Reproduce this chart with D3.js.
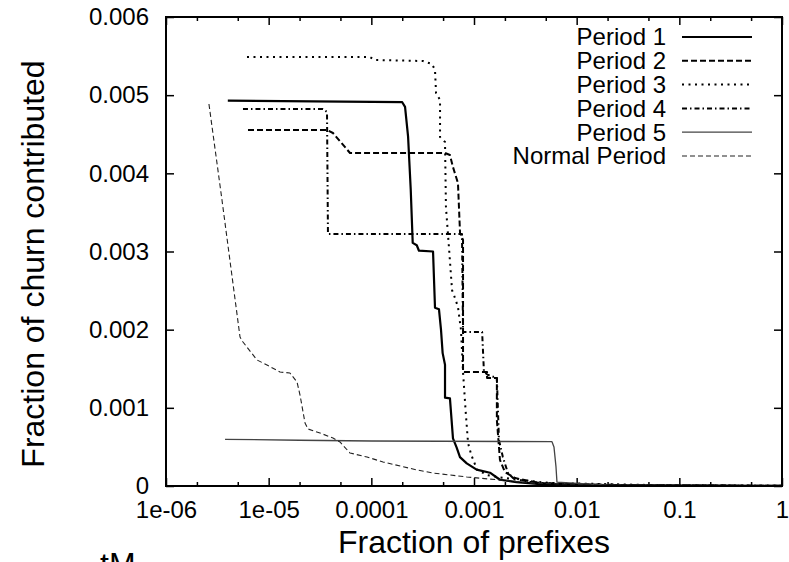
<!DOCTYPE html>
<html>
<head>
<meta charset="utf-8">
<script src="https://cdn.jsdelivr.net/npm/d3@7"></script>
<style>
  body { margin: 0; background: #fff; }
  svg { display: block; font-family: "Liberation Sans", Arial, Helvetica, sans-serif; }
  .axis text { font-size: 24px; fill: #000; }
  .axis line { stroke: #000; stroke-width: 1.5; }
</style>
</head>
<body>
<svg id="chart" width="789" height="562"></svg>
<script>
// values (x = fraction of prefixes, y = fraction of churn)
var seriesNames = ["Period 1", "Period 2", "Period 3", "Period 4", "Period 5", "Normal Period"];

var period1 = [[4.0e-6,0.00493],[2.0e-4,0.00491],[2.13e-4,0.00485],[2.28e-4,0.00447],[2.42e-4,0.00379],
  [2.53e-4,0.00311],[2.77e-4,0.00308],[2.91e-4,0.00301],[3.99e-4,0.00300],[4.17e-4,0.00228],
  [4.56e-4,0.00226],[4.77e-4,0.00200],[4.95e-4,0.00170],[5.22e-4,0.00155],[5.22e-4,0.00113],
  [5.83e-4,0.00112],[6.24e-4,0.00061],[6.78e-4,0.00049],[7.3e-4,0.00037],[8.5e-4,0.00029],
  [1.06e-3,0.00021],[1.43e-3,0.00017],[1.79e-3,0.00008],[2.6e-3,0.00005],[4.4e-3,0.000025],
  [0.03,0.000008],[1,0.000002]];

var period2 = [[6.29e-6,0.004554],[3.70e-5,0.004554],[4.23e-5,0.004516],[6.2e-5,0.00426],[5.22e-4,0.00426],
  [5.83e-4,0.004234],[6.24e-4,0.004081],[6.98e-4,0.003876],[7.31e-4,0.003237],[7.82e-4,0.003147],
  [7.82e-4,0.001458],[1.34e-3,0.001458],[1.34e-3,0.001382],[1.67e-3,0.001382],[1.67e-3,0.000844],
  [1.79e-3,0.000333],[2.0e-3,0.000179],[2.51e-3,0.000102],[4.39e-3,0.000038],[0.0169,0.000013],[1,0.000002]];

var period3 = [[6.15e-6,0.005488],[9.7e-5,0.005488],[1.09e-4,0.00545],[3.18e-4,0.005437],[3.9e-4,0.005398],
  [4.17e-4,0.005322],[4.27e-4,0.005027],[4.67e-4,0.004937],[4.67e-4,0.004465],[5.22e-4,0.004401],
  [5.33e-4,0.003569],[5.7e-4,0.003057],[6.11e-4,0.002507],[6.53e-4,0.002405],[6.98e-4,0.00229],
  [7.47e-4,0.001996],[7.82e-4,0.001458],[8.3e-4,0.00095],[8.75e-4,0.00055],[9.4e-4,0.0004],
  [1.07e-3,0.00021],[1.34e-3,0.00014],[1.79e-3,0.00011],[2.81e-3,0.000077],[5.5e-3,0.000038],
  [0.0518,0.000013],[1,0.000002]];

var period4 = [[5.62e-6,0.004823],[3.38e-5,0.004823],[3.7e-5,0.004785],[3.78e-5,0.003224],[7.64e-4,0.003224],
  [7.82e-4,0.00197],[1.2e-3,0.00197],[1.25e-3,0.001458],[1.37e-3,0.00142],[1.67e-3,0.001382],
  [1.75e-3,0.000588],[1.91e-3,0.000371],[2.14e-3,0.000166],[2.4e-3,0.000102],[3.51e-3,0.000051],
  [6.43e-3,0.000026],[0.0518,0.000009],[1,0.000002]];

var period5 = [[3.76e-6,0.000597],[2.0e-5,0.000585],[1.0e-4,0.000576],[5.75e-3,0.000567],[6.01e-3,0.000500],
  [6.29e-3,0.000244],[6.43e-3,0.000050],[0.02,0.000012],[1,0.000002]];

var normalPeriod = [[2.62e-6,0.004887],[3.51e-6,0.003659],[5.26e-6,0.001906],[5.62e-6,0.001842],
  [7.7e-6,0.001612],[9.63e-6,0.001548],[1.29e-5,0.001458],[1.61e-5,0.001446],[1.89e-5,0.00133],
  [2.02e-5,0.001164],[2.26e-5,0.000806],[2.42e-5,0.000729],[3.16e-5,0.000678],[4.23e-5,0.000614],
  [4.95e-5,0.000563],[6.2e-5,0.000422],[9.08e-5,0.000371],[1.3e-4,0.000307],[2.78e-4,0.000205],
  [3.99e-4,0.000166],[8.55e-4,0.000115],[1.79e-3,0.000077],[3.51e-3,0.000038],[0.0169,0.000013],
  [1,0.000003]];

var xMajor = [1e-6, 1e-5, 1e-4, 1e-3, 1e-2, 1e-1, 1];
var xTickLabels = ["1e-06", "1e-05", "0.0001", "0.001", "0.01", "0.1", "1"];
var yTicks = [0, 0.001, 0.002, 0.003, 0.004, 0.005, 0.006];
var yTickLabels = ["0", "0.001", "0.002", "0.003", "0.004", "0.005", "0.006"];

function drawChart() {
  var allSeries = [period1, period2, period3, period4, period5, normalPeriod];
  var styles = [
    {stroke: "#000", width: 2.2, dash: null},
    {stroke: "#000", width: 2.0, dash: "6,3"},
    {stroke: "#000", width: 2.0, dash: "2,4.5"},
    {stroke: "#000", width: 2.0, dash: "5,3,1.5,3"},
    {stroke: "#444", width: 1.3, dash: null},
    {stroke: "#222", width: 1.1, dash: "5,3"}
  ];

  var left = 166, right = 782, top = 17, bottom = 486;

  var svg = d3.select("#chart");

  var x = d3.scaleLog().domain([1e-6, 1]).range([left, right]);
  var y = d3.scaleLinear().domain([0, 0.006]).range([bottom, top]);

  var xMinor = [];
  xMajor.slice(0, -1).forEach(function(m) { xMinor.push(m * 2, m * 5); });

  // bottom axis, ticks pointing into the plot
  svg.append("g").attr("class", "axis")
    .attr("transform", "translate(0," + bottom + ")")
    .call(d3.axisBottom(x).tickValues(xMajor).tickSize(-8).tickPadding(15)
      .tickFormat(function(d, i) { return xTickLabels[i]; }));
  svg.append("g").attr("class", "axis")
    .attr("transform", "translate(0," + bottom + ")")
    .call(d3.axisBottom(x).tickValues(xMinor).tickSize(-4).tickFormat(""));
  // top mirror
  svg.append("g").attr("class", "axis")
    .attr("transform", "translate(0," + top + ")")
    .call(d3.axisTop(x).tickValues(xMajor).tickSize(-8).tickFormat(""));
  svg.append("g").attr("class", "axis")
    .attr("transform", "translate(0," + top + ")")
    .call(d3.axisTop(x).tickValues(xMinor).tickSize(-4).tickFormat(""));

  // left axis and right mirror
  svg.append("g").attr("class", "axis")
    .attr("transform", "translate(" + left + ",0)")
    .call(d3.axisLeft(y).tickValues(yTicks).tickSize(-8).tickPadding(17)
      .tickFormat(function(d, i) { return yTickLabels[i]; }));
  svg.append("g").attr("class", "axis")
    .attr("transform", "translate(" + right + ",0)")
    .call(d3.axisRight(y).tickValues(yTicks).tickSize(-8).tickFormat(""));

  svg.selectAll(".axis .domain").remove();
  svg.selectAll(".axis").attr("font-family", null);

  // clip + lines
  svg.append("clipPath").attr("id", "plotclip")
    .append("rect").attr("x", left).attr("y", top).attr("width", right - left).attr("height", bottom - top);

  var line = d3.line()
    .x(function(d) { return x(d[0]); })
    .y(function(d) { return y(d[1]); });

  var lines = svg.append("g").attr("clip-path", "url(#plotclip)");
  allSeries.forEach(function(s, i) {
    lines.append("path")
      .datum(s)
      .attr("fill", "none")
      .attr("stroke", styles[i].stroke)
      .attr("stroke-width", styles[i].width)
      .attr("stroke-dasharray", styles[i].dash)
      .attr("stroke-linejoin", "round")
      .attr("d", line);
  });

  // frame
  svg.append("rect")
    .attr("x", left).attr("y", top)
    .attr("width", right - left).attr("height", bottom - top)
    .attr("fill", "none").attr("stroke", "#000").attr("stroke-width", 2);

  // legend
  var legend = svg.append("g");
  seriesNames.forEach(function(name, i) {
    var ly = 37 + i * 23.8;
    legend.append("text")
      .attr("x", 666).attr("y", ly).attr("dy", "0.35em")
      .attr("text-anchor", "end")
      .style("font-size", "24px")
      .text(name);
    legend.append("line")
      .attr("x1", 682).attr("x2", 752).attr("y1", ly).attr("y2", ly)
      .attr("stroke", styles[i].stroke)
      .attr("stroke-width", styles[i].width)
      .attr("stroke-dasharray", styles[i].dash);
  });

  // axis titles
  svg.append("text")
    .attr("x", (left + right) / 2).attr("y", 553)
    .attr("text-anchor", "middle")
    .style("font-size", "32px")
    .text("Fraction of prefixes");
  svg.append("text")
    .attr("transform", "translate(44,264) rotate(-90)")
    .attr("text-anchor", "middle")
    .style("font-size", "32px")
    .text("Fraction of churn contributed");

  // clipped fragment from the page below the figure
  svg.append("text")
    .attr("x", 100).attr("y", 575)
    .style("font-size", "32px")
    .text("tM");
}

drawChart();
</script>
</body>
</html>
